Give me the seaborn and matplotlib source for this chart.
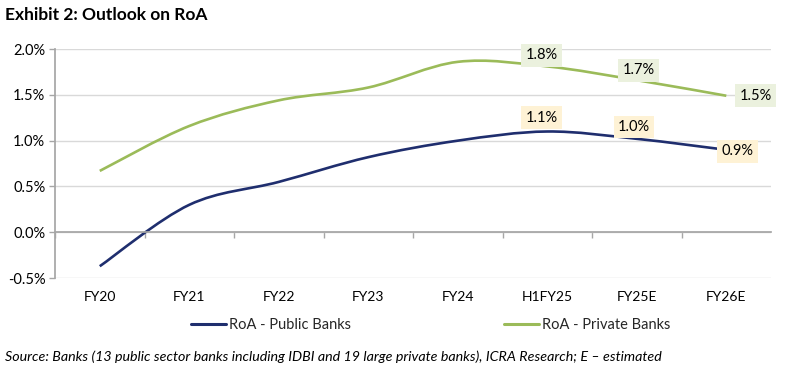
import matplotlib
matplotlib.use("Agg")
import matplotlib.pyplot as plt
import seaborn as sns
import numpy as np
from matplotlib.path import Path
from matplotlib.patches import PathPatch
from matplotlib.lines import Line2D
from matplotlib.ticker import FuncFormatter, FixedLocator

# Data (RoA, %)
years = ["FY20", "FY21", "FY22", "FY23", "FY24", "H1FY25", "FY25E", "FY26E"]
public_roa = [-0.37, 0.30, 0.55, 0.82, 1.00, 1.10, 1.02, 0.90]
private_roa = [0.67, 1.16, 1.44, 1.58, 1.86, 1.81, 1.66, 1.49]

# labelled points: index -> label
public_labels = {5: "1.1%", 6: "1.0%", 7: "0.9%"}
private_labels = {5: "1.8%", 6: "1.7%", 7: "1.5%"}

sns.set_theme(style="white")
plt.rcParams["font.family"] = ["Lato", "DejaVu Sans"]

navy = "#1F2E6E"
green = "#9BBB59"


def smooth_path(xs, ys):
    # Excel-style smoothed line drawn as cubic Bezier segments through the points
    pts = np.column_stack([xs, ys]).astype(float)
    n = len(pts)
    verts = [pts[0]]
    codes = [Path.MOVETO]
    for i in range(n - 1):
        p0 = pts[i - 1] if i > 0 else pts[i]
        p1 = pts[i]
        p2 = pts[i + 1]
        p3 = pts[i + 2] if i + 2 < n else pts[i + 1]
        c1 = p1 + (p2 - p0) / 6.0
        c2 = p2 - (p3 - p1) / 6.0
        verts += [c1, c2, p2]
        codes += [Path.CURVE4] * 3
    return Path(verts, codes)


fig = plt.figure(figsize=(7.86, 3.89), dpi=100)
ax = fig.add_axes([0.070, 0.285, 0.911, 0.589])

x = np.arange(len(years))
for vals, col in [(public_roa, navy), (private_roa, green)]:
    ax.add_patch(PathPatch(smooth_path(x, vals), facecolor="none",
                           edgecolor=col, lw=1.9, capstyle="butt"))

ax.set_xlim(-0.5, len(years) - 0.5)
ax.set_ylim(-0.5, 2.0)
ax.set_yticks([-0.5, 0.0, 0.5, 1.0, 1.5, 2.0])
ax.yaxis.set_major_formatter(FuncFormatter(lambda v, p: f"{v:.1f}%"))
ax.yaxis.grid(True, color="#D9D9D9", lw=1)
ax.set_axisbelow(True)

for s in ["top", "right"]:
    ax.spines[s].set_visible(False)
ax.spines["left"].set_color("#A6A6A6")
ax.spines["bottom"].set_color("#A6A6A6")
ax.spines["bottom"].set_position(("data", 0))

ax.set_xticks(x)
ax.set_xticklabels(years)
ax.xaxis.set_minor_locator(FixedLocator(np.arange(-0.5, len(years) - 1, 1.0)))
ax.tick_params(axis="x", which="major", length=0, pad=42, labelsize=10, colors="#000000")
ax.tick_params(axis="x", which="minor", length=4, width=1, color="#A6A6A6", direction="out", bottom=True)
ax.tick_params(axis="y", length=4, width=1, color="#A6A6A6", direction="out", left=True, labelsize=10.5, pad=3)
for lbl in ax.get_yticklabels():
    lbl.set_color("#000000")

# data labels
pub_off = {5: (-4, 10), 6: (-2, 8.5), 7: (8, -1)}
pri_off = {5: (-4, 8), 6: (1.5, 7), 7: (21, 0)}
for labels, vals, offs, fc in [(public_labels, public_roa, pub_off, "#FEF2D5"),
                               (private_labels, private_roa, pri_off, "#EBF1DE")]:
    for i, t in labels.items():
        ax.annotate(t, (x[i], vals[i]), xytext=offs[i], textcoords="offset points",
                    ha="center", va="center", fontsize=10.5, color="#000000",
                    bbox=dict(boxstyle="square,pad=0.3", fc=fc, ec="none"))

handles = [Line2D([], [], color=navy, lw=2.2), Line2D([], [], color=green, lw=2.2)]
fig.legend(handles, ["RoA - Public Banks", "RoA - Private Banks"], loc="center",
           bbox_to_anchor=(0.548, 0.165), ncol=2, frameon=False, fontsize=10.5,
           handlelength=2.4, handletextpad=0.2, columnspacing=10.5)

fig.text(0.006, 0.962, "Exhibit 2: Outlook on RoA", fontsize=12.5, fontweight="bold",
         ha="left", va="center", color="#000000")
fig.text(0.006, 0.082, "Source: Banks (13 public sector banks including IDBI and 19 large private banks), "
         "ICRA Research; E \u2013 estimated", fontsize=10.3, style="italic",
         ha="left", va="center", color="#000000")

fig.savefig("out.png", dpi=100)
